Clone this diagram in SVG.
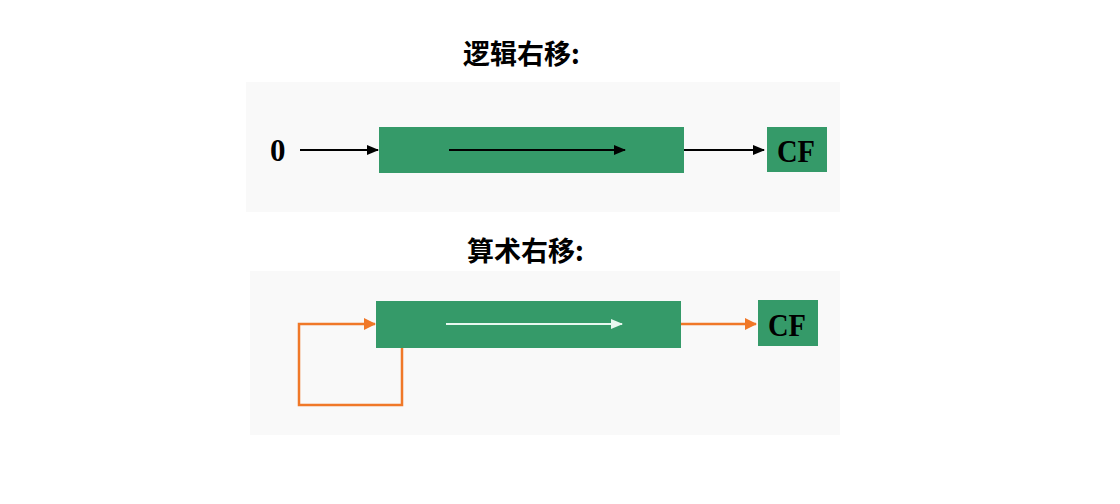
<svg xmlns="http://www.w3.org/2000/svg" width="1120" height="504" viewBox="0 0 1120 504">
<defs>
<style>
.title{font-family:"Noto Sans CJK SC","Noto Sans",sans-serif;font-weight:bold;font-size:27px;fill:#000}
.lbl{font-family:"Liberation Serif",serif;font-weight:bold;fill:#000}
.green{fill:#359a69}
.panel{fill:#f9f9f9}
.blk{stroke:#000;stroke-width:2;fill:none}
.org{stroke:#f07828;stroke-width:2.5;fill:none}
.wht{stroke:#e8f8f0;stroke-width:2;fill:none}
</style>
<marker id="ab" markerWidth="12" markerHeight="10" refX="11" refY="5" orient="auto" markerUnits="userSpaceOnUse"><path d="M0,0 L12,5 L0,10 Z" fill="#000"/></marker>
<marker id="ao" markerWidth="12" markerHeight="12" refX="11" refY="6" orient="auto" markerUnits="userSpaceOnUse"><path d="M0,0 L12,6 L0,12 Z" fill="#f07828"/></marker>
<marker id="aw" markerWidth="12" markerHeight="10" refX="11" refY="5" orient="auto" markerUnits="userSpaceOnUse"><path d="M0,0 L12,5 L0,10 Z" fill="#e8f8f0"/></marker>
</defs>
<rect width="1120" height="504" fill="#fff"/>
<rect class="panel" x="246" y="82" width="594" height="130"/>
<rect class="panel" x="250" y="271" width="590" height="164"/>
<text class="title" x="463" y="64">逻辑右移:</text>
<text class="title" x="467" y="261">算术右移:</text>
<g id="zero"><text class="lbl" x="270" y="161" font-size="31">0</text></g>
<g id="reg1"><rect class="green" x="379" y="127" width="305" height="46"/></g>
<g id="cf1"><rect class="green" x="767" y="127" width="60" height="45"/><text class="lbl" x="777" y="162" font-size="32" textLength="38" lengthAdjust="spacingAndGlyphs">CF</text></g>
<g id="reg2"><rect class="green" x="376" y="301" width="305" height="47"/></g>
<g id="cf2"><rect class="green" x="758" y="300" width="60" height="46"/><text class="lbl" x="768" y="336" font-size="32" textLength="38" lengthAdjust="spacingAndGlyphs">CF</text></g>
<g id="connectors">
<line class="blk" x1="300" y1="150" x2="378" y2="150" marker-end="url(#ab)"/>
<line class="blk" x1="449" y1="150" x2="625" y2="150" marker-end="url(#ab)"/>
<line class="blk" x1="684" y1="150" x2="764" y2="150" marker-end="url(#ab)"/>
<line class="wht" x1="446" y1="324" x2="622" y2="324" marker-end="url(#aw)"/>
<line class="org" x1="681" y1="324" x2="756" y2="324" marker-end="url(#ao)"/>
<polyline class="org" points="402,348 402,405 299,405 299,324 375,324" marker-end="url(#ao)"/>
</g>
</svg>
